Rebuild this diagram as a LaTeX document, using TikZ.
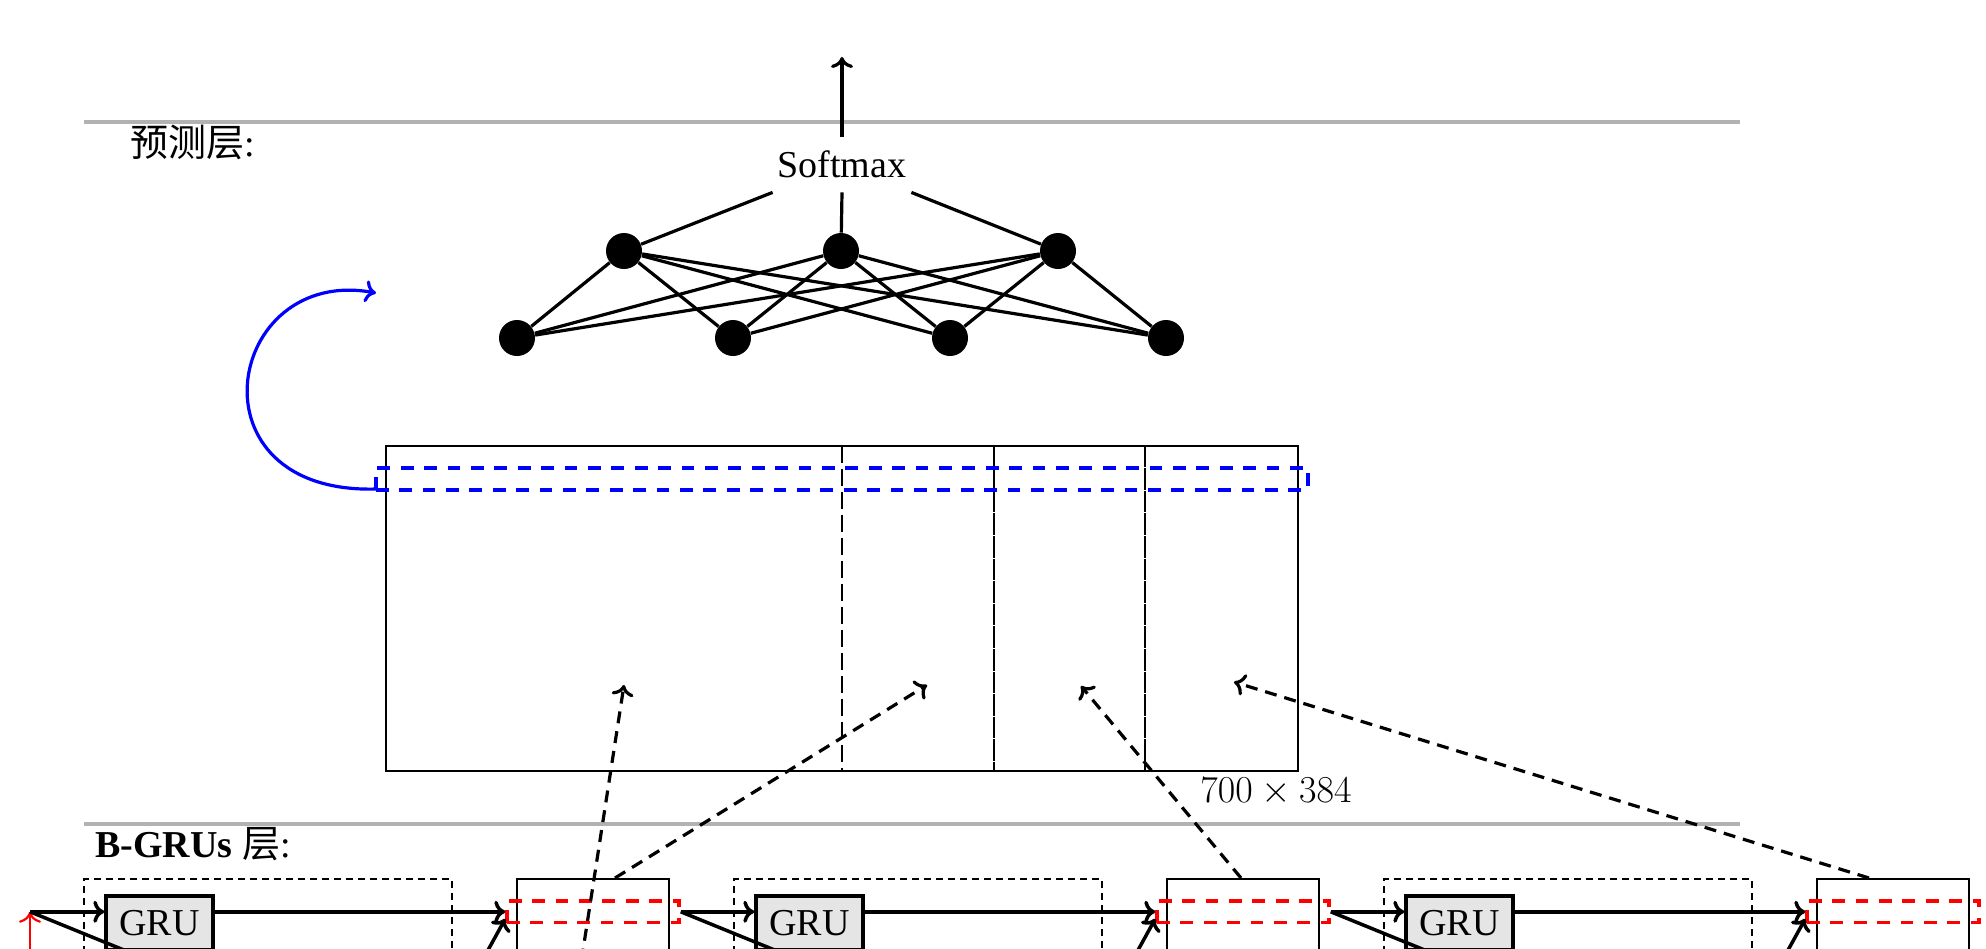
\documentclass[tikz,border=0pt]{standalone}
\usepackage[no-math]{fontspec}
\setmainfont{Liberation Serif}
\newfontfamily\cjkfont{Noto Sans CJK SC}
\usetikzlibrary{calc,arrows.meta}
\begin{document}
\begin{tikzpicture}[x=0.5pt,y=-0.5pt,
  >={To[length=5.5pt,width=11pt]},
  txt/.style={font=\fontsize{19}{23}\selectfont, inner sep=0pt},
  neuron/.style={circle,fill=black,minimum size=18pt,inner sep=0pt},
  edge/.style={line width=1.6pt},
  sep/.style={line width=2pt,draw=black!30},
  bluedash/.style={draw=blue,line width=2pt,dash pattern=on 6.4pt off 5.3pt},
  reddash/.style={draw=red,line width=1.7pt,dash pattern=on 6.4pt off 5.3pt,minimum width=86pt,minimum height=10.75pt,inner sep=0pt},
  grubox/.style={draw,line width=1.8pt,fill=black!10,minimum width=53.5pt,minimum height=27pt,inner sep=0pt,font=\fontsize{19}{23}\selectfont},
  cellbox/.style={draw,line width=1pt,minimum width=76pt,minimum height=60.5pt,inner sep=0pt},
  unitbox/.style={draw,line width=1pt,dash pattern=on 3.5pt off 2.5pt,minimum width=184pt,minimum height=60.5pt,inner sep=0pt},
  flow/.style={->,line width=1.75pt},
  feed/.style={->,line width=1.6pt,dash pattern=on 6pt off 4pt},
  colline/.style={line width=1pt},
]
\useasboundingbox (0,0) rectangle (1986,948);
\clip (0,0) rectangle (1986,948);

% separators
\draw[sep] (84,121.5) -- (1740,121.5);
\draw[sep] (84,824) -- (1740,824);

% labels
\node[txt,anchor=base west] (lab1) at (130,156) {{\cjkfont 预测层}:};
\node[txt,anchor=base west] (lab2) at (95,857) {\textbf{B-GRUs} {\cjkfont 层}:};

% prediction network
\node[txt,minimum width=69pt,minimum height=27.5pt] (sm) at (842,164.5) {Softmax};
\coordinate (out) at (842,57);
\draw[->,line width=1.6pt] (sm.north) -- (out);

\foreach \n/\x in {t1/624,t2/841,t3/1058} \node[neuron] (\n) at (\x,251) {};
\foreach \n/\x in {b1/517,b2/733,b3/950,b4/1166} \node[neuron] (\n) at (\x,338) {};
\foreach \t in {t1,t2,t3} \foreach \b in {b1,b2,b3,b4} \draw[edge] (\t) -- (\b);
\draw[edge] (sm.south west) -- (t1);
\draw[edge] (sm.south) -- (t2);
\draw[edge] (sm.south east) -- (t3);

% matrix
\node[draw,line width=1pt,minimum width=455.75pt,minimum height=162.5pt,inner sep=0pt] (M) at (841.75,608) {};
\draw[colline,dash pattern=on 8.5pt off 3pt] (842,445.5) -- (842,770.5);
\draw[colline,dash pattern=on 10.8pt off 0.5pt] (994,445.5) -- (994,770.5);
\draw[colline,dash pattern=on 10.8pt off 0.5pt] (1145,445.5) -- (1145,770.5);
\node[txt] (dim) at (1276,792) {\scalebox{1.1}{$700\times384$}};

% blue selection and loop
\draw[bluedash] (376,490) rectangle (1308,468);
\coordinate (loopS) at (377,489);
\coordinate (loopE) at (376,293);
\draw[->,blue,line width=1.6pt] (loopS) .. controls (185,495) and (225,265) .. (loopE);

% B-GRU row
\foreach \k in {0,1,2} {
  \pgfmathsetmacro\o{650*\k}
  \node[unitbox] (d\k) at (268+\o,939.5) {};
  \node[cellbox] (s\k) at (593+\o,939.5) {};
  \node[grubox] (g\k) at (159.6+\o,923) {GRU};
  \node[reddash] (r\k) at (593+\o,911.75) {};
}
\coordinate (in0) at (30,911.75);
\coordinate (in1) at (r0.east);
\coordinate (in2) at (r1.east);
\coordinate (rs) at (30,1000);
\draw[->,red,line width=1.1pt] (rs) -- (in0);
\foreach \k in {0,1,2} {
  \pgfmathsetmacro\o{650*\k}
  \draw[flow] (in\k) -- (g\k.west |- in\k);
  \draw[flow] (g\k.east |- r\k.west) -- (r\k.west);
  \coordinate (dn\k) at ($(in\k)+(216,88)$);
  \draw[line width=1.75pt] (in\k) -- (dn\k);
  \coordinate (up\k) at (460.5+\o,1000);
  \coordinate (rin\k) at ($(r\k.west)+(0,7)$);
  \draw[flow] (up\k) -- (rin\k);
}

% dashed feeds into matrix
\coordinate (f1s) at (575.3,1000);
\coordinate (f1e) at (624,685);
\coordinate (f2e) at (927,685);
\coordinate (f3e) at (1081,686);
\coordinate (f4e) at (1234,682);
\draw[feed] (f1s) -- (f1e);
\draw[feed] ($(s0.north)+(22,0)$) -- (f2e);
\draw[feed] ($(s1.north)+(-2,0)$) -- (f3e);
\draw[feed] ($(s2.north)+(-24,0)$) -- (f4e);
\end{tikzpicture}
\end{document}
